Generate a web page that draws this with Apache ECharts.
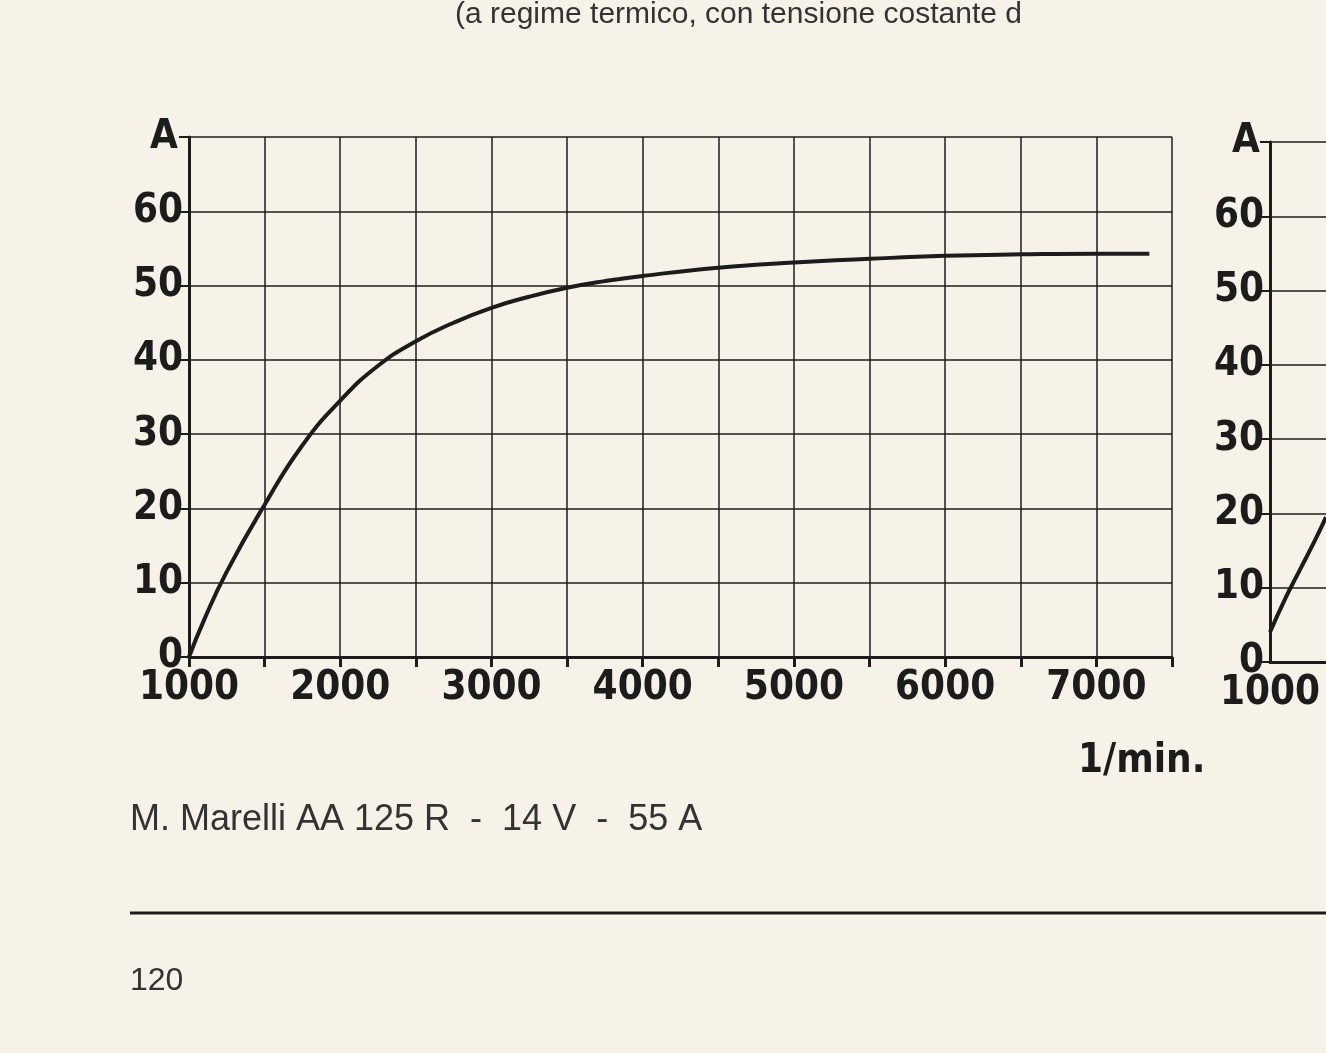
<!DOCTYPE html>
<html><head><meta charset="utf-8">
<script src="https://cdn.jsdelivr.net/npm/echarts@6/dist/echarts.min.js"></script>
<style>html,body{margin:0;background:#f6f2e8}#c{width:1326px;height:1053px}</style>
</head><body><div id="c"></div>
<script>
// curva Marelli AA 125 R (giri/min, A)
var rpm = [1000, 1100, 1250, 1500, 1750, 2000, 2250, 2500, 2750, 3000, 3250, 3500, 3750, 4000, 4500, 5000, 5500, 6000, 6500, 7000, 7350];
var amp = [0, 5, 11.5, 20.5, 28.5, 34.5, 39.2, 42.5, 45, 47, 48.5, 49.7, 50.6, 51.3, 52.4, 53.1, 53.6, 54, 54.2, 54.3, 54.3];
// curva del grafico a destra (tagliato dal bordo pagina)
var rpm2 = [1000, 1100, 1200, 1300, 1370];
var amp2 = [4, 8.5, 12.5, 16.5, 19.5];

var ink = '#1c1c1c';
var font = '"Liberation Sans Narrow", "DejaVu Sans Condensed", sans-serif';

function xAx(g, max, split) {
    return {
        type: 'value', gridIndex: g, min: 1000, max: max, interval: 500,
        axisLine: {lineStyle: {color: ink, width: 3}},
        axisTick: {show: split, length: 10, lineStyle: {color: ink, width: 3}},
        splitLine: {show: split, lineStyle: {color: ink, width: 1.5}},
        axisLabel: {
            color: ink, fontFamily: font, fontWeight: 'bold', fontSize: 40, margin: 12,
            showMaxLabel: split,
            formatter: function (v) { return v % 1000 === 0 ? String(v) : ''; }
        }
    };
}
function yAx(g) {
    return {
        type: 'value', gridIndex: g, min: 0, max: 70, interval: 10,
        axisLine: {show: true, lineStyle: {color: ink, width: 3}},
        axisTick: {show: true, length: 10, lineStyle: {color: ink, width: 2}},
        splitLine: {show: true, lineStyle: {color: ink, width: 1.5}},
        axisLabel: {
            color: ink, fontFamily: font, fontWeight: 'bold', fontSize: 40, margin: 6,
            formatter: function (v) { return v === 70 ? '' : String(v); }
        }
    };
}

var myChart = echarts.init(document.getElementById('c'));
myChart.setOption({
    backgroundColor: '#f6f2e8',
    animation: false,
    grid: [
        {left: 189, top: 137, right: 154, height: 520},
        {left: 1270, top: 142, right: 0, height: 520}
    ],
    xAxis: [xAx(0, 7500, true), xAx(1, 1370, false)],
    yAxis: [yAx(0), yAx(1)],
    series: [
        {type: 'line', smooth: true, xAxisIndex: 0, yAxisIndex: 0, symbol: 'none',
            lineStyle: {color: ink, width: 4}, data: rpm.map(function (r, i) { return [r, amp[i]]; })},
        {type: 'line', smooth: true, xAxisIndex: 1, yAxisIndex: 1, symbol: 'none',
            lineStyle: {color: ink, width: 4}, data: rpm2.map(function (r, i) { return [r, amp2[i]]; })}
    ],
    graphic: [
        {type: 'text', left: 455, top: 0, style: {text: '(a regime termico, con tensione costante d', font: '30px "Liberation Sans", sans-serif', fill: '#333'}},
        {type: 'text', left: 150, top: 118, style: {text: 'A', font: 'bold 40px ' + font, fill: ink}},
        {type: 'text', left: 1232, top: 122, style: {text: 'A', font: 'bold 40px ' + font, fill: ink}},
        {type: 'text', left: 1078, top: 742, style: {text: '1/min.', font: 'bold 40px ' + font, fill: ink}},
        {type: 'text', left: 130, top: 802, style: {text: 'M. Marelli AA 125 R  -  14 V  -  55 A', font: '36px "Liberation Sans", sans-serif', fill: '#333'}},
        {type: 'line', shape: {x1: 130, y1: 913, x2: 1326, y2: 913}, style: {stroke: ink, lineWidth: 3}},
        {type: 'text', left: 130, top: 965, style: {text: '120', font: '32px "Liberation Sans", sans-serif', fill: '#333'}}
    ]
});
</script></body></html>
